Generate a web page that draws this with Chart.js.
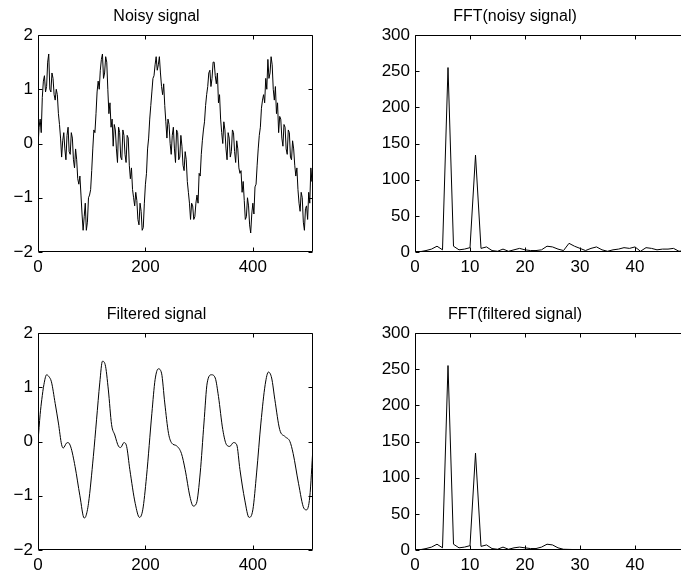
<!DOCTYPE html>
<html>
<head>
<meta charset="utf-8">
<script src="https://cdn.jsdelivr.net/npm/chart.js@4/dist/chart.umd.min.js"></script>
<style>
  html, body { margin: 0; padding: 0; background: #fff; overflow: hidden; width: 681px; height: 575px; }
  .panel { position: absolute; }
</style>
</head>
<body>
<div class="panel" style="left:0;top:0;width:340px;height:277px"><canvas id="noisy"></canvas></div>
<div class="panel" style="left:340px;top:0;width:350px;height:277px"><canvas id="fftNoisy"></canvas></div>
<div class="panel" style="left:0;top:298px;width:340px;height:277px"><canvas id="filtered"></canvas></div>
<div class="panel" style="left:340px;top:298px;width:350px;height:277px"><canvas id="fftFiltered"></canvas></div>
<script>
// noisy signal, one value every 2 samples
const noisyStep = 2;
const noisyY = [
  -0.05, 0.3, 0.45, 0.2, 0.85, 1.15, 1.25, 0.95, 1.05, 1.5,
  1.65, 1.0, 0.95, 1.3, 1.2, 0.9, 0.8, 1.0, 0.9, 0.55,
  0.35, 0.1, -0.25, 0.05, 0.2, -0.1, -0.3, 0.15, 0.3, -0.15,
  -0.2, 0.2, 0.1, -0.3, -0.45, -0.1, -0.3, -0.65, -0.75, -0.6,
  -0.95, -1.3, -1.6, -1.35, -1.1, -1.6, -1.45, -1.0, -0.95, -0.85,
  -0.5, -0.1, 0.25, 0.2, 0.55, 0.95, 1.15, 1.0, 1.35, 1.55,
  1.65, 1.2, 1.3, 1.6, 1.5, 1.0, 0.55, 0.75, 0.3, 0.45,
  -0.05, 0.35, 0.25, -0.1, -0.35, 0.3, 0.2, -0.25, -0.3, 0.25,
  0.15, -0.2, -0.35, 0.15, 0.1, -0.4, -0.65, -0.45, -0.85, -1.0,
  -1.15, -0.9, -1.05, -1.4, -1.5, -1.1, -1.25, -1.6, -1.55, -1.1,
  -0.75, -0.55, -0.1, 0.1, 0.45, 0.7, 0.95, 1.2, 1.25, 1.45,
  1.6, 1.35, 1.45, 1.6, 1.3, 1.05, 0.9, 1.1, 0.7, 0.4,
  0.1, 0.45, 0.35, 0.0, -0.2, 0.15, 0.3, -0.1, -0.35, 0.25,
  0.2, -0.3, -0.25, 0.15, -0.05, -0.4, -0.5, -0.15, -0.3, -0.7,
  -0.9, -1.1, -1.4, -1.1, -1.15, -1.4, -1.35, -1.1, -0.95, -1.1,
  -0.55, -0.6, -0.2, 0.05, 0.25, 0.4, 0.7, 0.9, 1.05, 1.3,
  1.35, 1.05, 1.2, 1.5, 1.5, 1.25, 1.1, 1.3, 0.75, 0.9,
  0.45, 0.2, 0.0, 0.4, 0.25, -0.1, -0.3, 0.2, 0.1, -0.25,
  -0.15, 0.25, 0.2, -0.15, -0.35, 0.05, -0.1, -0.45, -0.55, -0.5,
  -0.9, -0.7, -1.05, -1.4, -1.35, -1.0, -1.15, -1.5, -1.65, -1.3,
  -1.1, -1.3, -0.8, -0.75, -0.4, -0.1, 0.15, 0.3, 0.65, 0.8,
  0.9, 0.75, 1.2, 1.0, 1.55, 1.2, 1.3, 1.6, 1.45, 1.0,
  0.8, 1.05, 0.55, 0.75, 0.2, 0.5, 0.45, 0.1, -0.05, 0.35,
  0.3, -0.1, -0.2, 0.25, 0.2, -0.25, -0.3, 0.05, -0.1, -0.4,
  -0.6, -0.45, -0.85, -1.1, -1.25, -0.9, -1.0, -1.45, -1.6, -1.2,
  -1.15, -1.4, -0.9, -1.1, -0.45, -0.7, -0.25
];

// filtered signal, read at uneven sample positions
const filteredX = [
  0, 4, 7, 11, 16, 20, 25, 32, 38, 44, 47, 53, 56, 61, 69, 78, 86, 89, 94, 103,
  109, 115, 120, 125, 131, 137, 143, 150, 154, 160, 165, 171, 181, 189, 195, 202, 212, 218, 224, 230,
  236, 243, 249, 258, 267, 274, 283, 289, 295, 302, 309, 315, 323, 330, 336, 344, 351, 357, 364, 370,
  376, 385, 393, 400, 407, 415, 423, 429, 435, 441, 450, 460, 469, 475, 485, 495, 500, 506, 512
];
const filteredY = [
  0, 0.5, 0.77, 1.05, 1.23, 1.2, 1.1, 0.7, 0.34, -0.06, -0.12, -0.03, -0.02, -0.1, -0.46, -1.0, -1.41, -1.38, -1.14, -0.28,
  0.4, 1.08, 1.48, 1.42, 0.95, 0.31, 0.12, -0.09, -0.11, -0.02, -0.09, -0.52, -1.14, -1.4, -1.26, -0.65, 0.52, 1.14, 1.34, 1.26,
  0.71, 0.15, -0.03, -0.08, -0.22, -0.52, -1.02, -1.19, -1.14, -0.58, 0.34, 1.08, 1.23, 1.17, 0.83, 0.22, -0.06, -0.09, -0.02, -0.06,
  -0.52, -1.08, -1.4, -1.26, -0.58, 0.34, 1.05, 1.28, 1.17, 0.77, 0.22, 0.09, 0.0, -0.22, -0.77, -1.23, -1.26, -1.02, -0.1
];

// FFT magnitudes, bins 0..50
const fftNoisyY = [
  0, 0.5, 2, 4, 8, 3, 255, 8, 3, 4, 6,
  134, 5, 7, 2, 1, 4, 1, 3, 5, 3,
  2, 2, 3, 8, 7, 4, 2, 12, 8, 5,
  2, 5, 7, 3, 1, 3, 4, 6, 5, 7,
  1, 6, 5, 3, 4, 4, 5, 1, 2, 3
];
const fftFilteredY = [
  0, 0.5, 2, 4, 8, 3, 255, 8, 3, 4, 6,
  134, 5, 7, 2, 1, 4, 1, 3, 4, 3,
  2, 2, 4, 8, 7, 3, 1, 0.8, 0.6, 0.5,
  0.4, 0.3, 0.3, 0.2, 0.2, 0.2, 0.2, 0.2, 0.2, 0.2,
  0.2, 0.2, 0.2, 0.2, 0.2, 0.2, 0.2, 0.2, 0.2, 0.2
];

const signalXTicks = [0, 200, 400];
const signalYTicks = [-2, -1, 0, 1, 2];
const fftXTicks = [0, 10, 20, 30, 40];
const fftYTicks = [0, 50, 100, 150, 200, 250, 300];

Chart.defaults.font.family = '"Liberation Sans", Arial, Helvetica, sans-serif';
Chart.defaults.color = '#000';
Chart.defaults.animation = false;

const TICK = 4;

// MATLAB style box with inward ticks on all four sides
const boxTicks = {
  id: 'boxTicks',
  afterDatasetsDraw(chart) {
    const { ctx, chartArea: a, scales: { x, y } } = chart;
    const l = Math.round(a.left) + 0.5, r = Math.round(a.right) - 0.5;
    const t = Math.round(a.top) + 0.5, b = Math.round(a.bottom) - 0.5;
    ctx.save();
    ctx.strokeStyle = '#000';
    ctx.lineWidth = 1;
    ctx.beginPath();
    ctx.rect(l, t, r - l, b - t);
    x.ticks.forEach(tk => {
      const px = Math.round(x.getPixelForValue(tk.value)) + 0.5;
      ctx.moveTo(px, b); ctx.lineTo(px, b - TICK);
      ctx.moveTo(px, t); ctx.lineTo(px, t + TICK);
    });
    y.ticks.forEach(tk => {
      const py = Math.round(y.getPixelForValue(tk.value)) + 0.5;
      ctx.moveTo(l, py); ctx.lineTo(l + TICK, py);
      ctx.moveTo(r, py); ctx.lineTo(r - TICK, py);
    });
    ctx.stroke();
    ctx.restore();
  }
};

const fmt = v => (v < 0 ? '\u2212' + Math.abs(v) : String(v));

function makeChart(id, title, points, xRange, xTicks, yRange, yTicks, yWidth, padRight, smooth) {
  return new Chart(document.getElementById(id), {
    type: 'line',
    data: {
      datasets: [{
        data: points,
        borderColor: '#000',
        borderWidth: 1,
        pointRadius: 0,
        fill: false,
        tension: 0,
        cubicInterpolationMode: smooth ? 'monotone' : 'default'
      }]
    },
    options: {
      responsive: true,
      maintainAspectRatio: false,
      layout: { padding: { left: 0, right: padRight, top: 0, bottom: 0 } },
      plugins: {
        legend: { display: false },
        tooltip: { enabled: false },
        title: {
          display: true,
          text: title,
          color: '#000',
          font: { size: 16, weight: 'normal' },
          padding: { top: 7, bottom: 8.8 }
        }
      },
      scales: {
        x: {
          type: 'linear',
          min: xRange[0],
          max: xRange[1],
          grid: { display: false, drawTicks: false },
          border: { display: false },
          ticks: { font: { size: 17 }, padding: 5, maxRotation: 0, callback: fmt },
          afterBuildTicks: s => { s.ticks = xTicks.map(v => ({ value: v })); },
          afterFit: s => { s.height = 25; }
        },
        y: {
          type: 'linear',
          min: yRange[0],
          max: yRange[1],
          grid: { display: false, drawTicks: false },
          border: { display: false },
          ticks: { font: { size: 17 }, padding: 5, callback: fmt },
          afterBuildTicks: s => { s.ticks = yTicks.map(v => ({ value: v })); },
          afterFit: s => { s.width = yWidth; }
        }
      }
    },
    plugins: [boxTicks]
  });
}

const noisyPoints = noisyY.map((v, i) => ({ x: i * noisyStep, y: v }));
const filteredPoints = filteredX.map((v, i) => ({ x: v, y: filteredY[i] }));
const fftNoisyPoints = fftNoisyY.map((v, i) => ({ x: i, y: v }));
const fftFilteredPoints = fftFilteredY.map((v, i) => ({ x: i, y: v }));

makeChart('noisy', 'Noisy signal', noisyPoints, [0, 512], signalXTicks, [-2, 2], signalYTicks, 38, 27, false);
makeChart('fftNoisy', 'FFT(noisy signal)', fftNoisyPoints, [0, 50], fftXTicks, [0, 300], fftYTicks, 75, 0, false);
makeChart('filtered', 'Filtered signal', filteredPoints, [0, 512], signalXTicks, [-2, 2], signalYTicks, 38, 27, true);
makeChart('fftFiltered', 'FFT(filtered signal)', fftFilteredPoints, [0, 50], fftXTicks, [0, 300], fftYTicks, 75, 0, false);
</script>
</body>
</html>
